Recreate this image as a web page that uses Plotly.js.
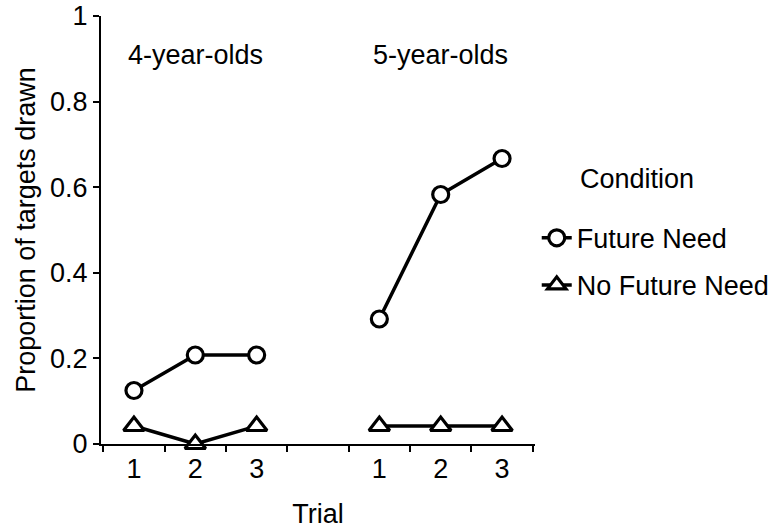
<!DOCTYPE html>
<html>
<head>
<meta charset="utf-8">
<script src="https://cdn.plot.ly/plotly-3.0.1.min.js"></script>
<style>html,body{margin:0;padding:0;background:#fff;}#chart{width:776px;height:531px;}</style>
</head>
<body>
<div id="chart"></div>
<script>
// ---- data ----
const groups = ["4-year-olds", "5-year-olds"];
const trials = ["1", "2", "3"];
const futureNeed4 = [0.125, 0.208, 0.208];
const noFutureNeed4 = [0.042, 0.0, 0.042];
const futureNeed5 = [0.292, 0.583, 0.667];
const noFutureNeed5 = [0.042, 0.042, 0.042];
const seriesNames = ["Future Need", "No Future Need"];
const legendTitle = "Condition";
const xTitle = "Trial";
const yTitle = "Proportion of targets drawn";

// categories: group trials with a blank separator between groups
const gapCat = "gap";
const cats4 = trials.map(t => groups[0] + " " + t);
const cats5 = trials.map(t => groups[1] + " " + t);
const categories = cats4.concat([gapCat], cats5);
const tickText = trials.concat([""], trials);

const fnY = futureNeed4.concat([null], futureNeed5);
const nfnY = noFutureNeed4.concat([null], noFutureNeed5);

const font = {family: "Liberation Sans, Arial, Helvetica, sans-serif", color: "#000"};
const fs = 27;

const traces = [
  {
    x: categories, y: fnY, name: seriesNames[0], type: "scatter", mode: "lines+markers",
    connectgaps: false, legendgroup: "a", cliponaxis: false,
    line: {color: "#000", width: 3.5},
    marker: {symbol: "circle", size: 16, color: "#fff", line: {color: "#000", width: 3.2}}
  },
  {
    x: categories, y: nfnY, name: seriesNames[1], type: "scatter", mode: "lines+markers",
    connectgaps: false, legendgroup: "b", cliponaxis: false,
    line: {color: "#000", width: 3.5},
    marker: {symbol: "triangle-up", size: 18, color: "#fff", line: {color: "#000", width: 3.2}}
  }
];

const layout = {
  width: 776, height: 531,
  paper_bgcolor: "#fff", plot_bgcolor: "#fff",
  margin: {l: 101, r: 241, t: 16, b: 87, autoexpand: false},
  font: Object.assign({size: fs}, font),
  showlegend: true,
  legend: {
    x: 1.004, xanchor: "left", y: 0.538, yanchor: "top",
    traceorder: "grouped", tracegroupgap: 9,
    font: Object.assign({size: fs}, font),
    bgcolor: "rgba(0,0,0,0)", borderwidth: 0
  },
  xaxis: {
    type: "category", categoryorder: "array", categoryarray: categories,
    tickmode: "array", tickvals: categories, ticktext: tickText,
    tickson: "boundaries", ticks: "outside", ticklen: 6, tickwidth: 2, tickcolor: "#000",
    showline: true, linecolor: "#000", linewidth: 2, showgrid: false, zeroline: false,
    tickfont: Object.assign({size: fs}, font),
    title: {text: xTitle, font: Object.assign({size: fs}, font), standoff: 21},
    fixedrange: true
  },
  yaxis: {
    range: [0, 1], tickvals: [0, 0.2, 0.4, 0.6, 0.8, 1], ticktext: ["0", "0.2", "0.4", "0.6", "0.8", "1"],
    ticks: "outside", ticklen: 6, tickwidth: 2, tickcolor: "#000",
    showline: true, linecolor: "#000", linewidth: 2, showgrid: false, zeroline: false,
    tickfont: Object.assign({size: fs}, font),
    title: {text: yTitle, font: Object.assign({size: fs}, font), standoff: 7},
    fixedrange: true
  },
  annotations: [
    {x: cats4[1], y: 0.91, xref: "x", yref: "y", text: groups[0], showarrow: false,
     font: Object.assign({size: fs}, font)},
    {x: cats5[1], y: 0.91, xref: "x", yref: "y", text: groups[1], showarrow: false,
     font: Object.assign({size: fs}, font)},
    {x: 1.1, y: 0.62, xref: "paper", yref: "paper", xanchor: "left", yanchor: "middle",
     text: legendTitle, showarrow: false, font: Object.assign({size: fs}, font)}
  ]
};

Plotly.newPlot("chart", traces, layout, {displayModeBar: false, staticPlot: true});
</script>
</body>
</html>
